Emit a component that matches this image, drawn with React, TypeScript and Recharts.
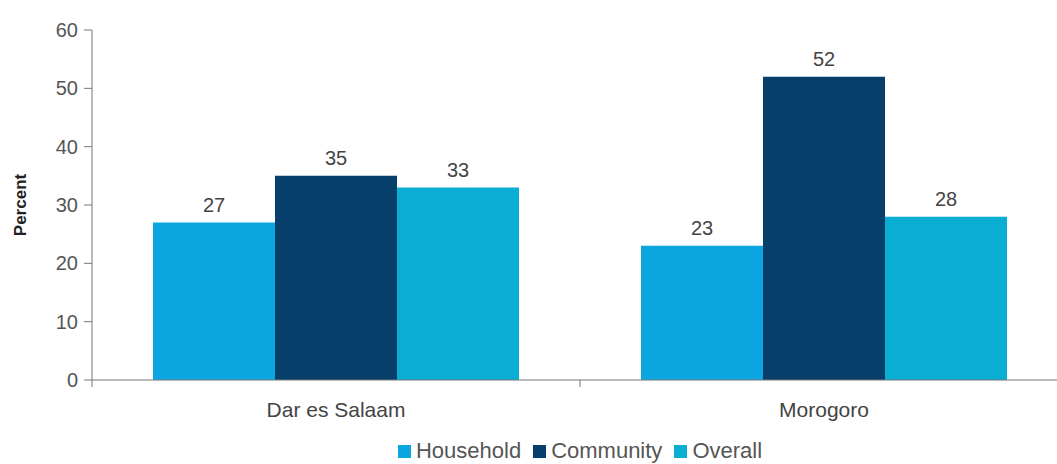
import React from 'react';
import { BarChart, Bar, XAxis, YAxis, Legend, LabelList } from 'recharts';

const regions = ['Dar es Salaam', 'Morogoro'];
const household = [27, 23];
const community = [35, 52];
const overall = [33, 28];
const yTicks = [0, 10, 20, 30, 40, 50, 60];

const seriesInfo = [
  { key: 'household', name: 'Household', color: '#0ba5e0' },
  { key: 'community', name: 'Community', color: '#073f6c' },
  { key: 'overall', name: 'Overall', color: '#0aaed2' },
];

const chartData = regions.map((region, i) => ({
  region,
  household: household[i],
  community: community[i],
  overall: overall[i],
}));

const CHART_W = 1080;
const CHART_H = 464;
const AXIS_W = 92;
const RIGHT = 12;
const bandHalf = (CHART_W - AXIS_W - RIGHT) / regions.length / 2;

const font = '"Liberation Sans", Arial, sans-serif';

const RegionTick = (props: any) => {
  const { x, y, payload } = props;
  const left = x - bandHalf;
  return (
    <g>
      <line x1={left} y1={y - 8} x2={left} y2={y - 1} stroke="#777" strokeWidth={1} />
      <text x={x} y={y + 29} textAnchor="middle" fill="#444" fontSize={21} fontFamily={font}>
        {payload.value}
      </text>
    </g>
  );
};

const LegendContent = () => (
  <div style={{ display: 'flex', justifyContent: 'center', alignItems: 'center', fontFamily: font, fontSize: 22, color: '#555' }}>
    {seriesInfo.map((s) => (
      <div key={s.key} style={{ display: 'flex', alignItems: 'center', margin: '0 6px' }}>
        <span style={{ width: 13, height: 13, background: s.color, display: 'inline-block', marginRight: 5 }} />
        <span>{s.name}</span>
      </div>
    ))}
  </div>
);

const App: React.FC = () => {
  return (
    <div style={{ position: 'absolute', left: 0, top: 0, width: 1057, height: 464, overflow: 'hidden', background: '#fff' }}>
      <BarChart
        width={CHART_W}
        height={CHART_H}
        data={chartData}
        margin={{ top: 30, right: RIGHT, left: 0, bottom: 0 }}
        barCategoryGap="12.5%"
        barGap={0}
      >
        <XAxis
          dataKey="region"
          tick={<RegionTick />}
          tickLine={false}
          axisLine={{ stroke: '#777' }}
          height={58}
          interval={0}
        />
        <YAxis
          width={AXIS_W}
          domain={[0, 60]}
          ticks={yTicks}
          tick={{ fill: '#555', fontSize: 20, fontFamily: font }}
          tickSize={8}
          tickMargin={6}
          tickLine={{ stroke: '#777' }}
          axisLine={{ stroke: '#777' }}
          label={{
            value: 'Percent',
            angle: -90,
            position: 'insideLeft',
            offset: 20,
            style: { textAnchor: 'middle', fill: '#222', fontSize: 17, fontWeight: 'bold', fontFamily: font },
          }}
        />
        <Legend
          verticalAlign="bottom"
          content={<LegendContent />}
          wrapperStyle={{ left: AXIS_W, width: CHART_W - AXIS_W - RIGHT, bottom: 0 }}
        />
        {seriesInfo.map((s) => (
          <Bar key={s.key} dataKey={s.key} name={s.name} fill={s.color} isAnimationActive={false}>
            <LabelList
              dataKey={s.key}
              position="top"
              offset={11}
              style={{ fill: '#444', fontSize: 20, fontFamily: font }}
            />
          </Bar>
        ))}
      </BarChart>
    </div>
  );
};

export default App;
